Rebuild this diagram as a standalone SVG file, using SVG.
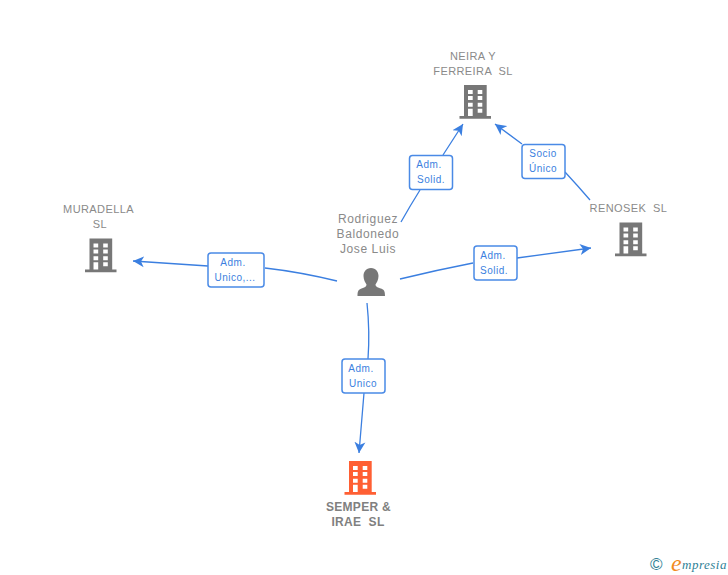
<svg xmlns="http://www.w3.org/2000/svg" width="728" height="575" viewBox="0 0 728 575">
<style>
text{font-family:"Liberation Sans",Arial,sans-serif;white-space:pre}
.n{font-size:11px;fill:#8a8a8a;text-anchor:middle;letter-spacing:.4px}
.b{font-size:12px;font-weight:bold;fill:#808080;letter-spacing:.3px}
.p{font-size:12px;letter-spacing:.6px}
.l{font-size:10px;fill:#3b7fe0;text-anchor:middle;letter-spacing:.5px}
.box{fill:#fff;stroke:#4a8ae6;stroke-width:1.5}
.c{fill:none;stroke:#3b7fe0;stroke-width:1.3;marker-end:url(#a)}
</style>
<defs>
<marker id="a" viewBox="0 0 12 12" refX="11" refY="6" markerWidth="12" markerHeight="12" markerUnits="userSpaceOnUse" orient="auto"><path d="M0 .5L11 6L0 11.500L3 6Z" fill="#3b7fe0"/></marker>
<path id="bld" fill-rule="evenodd" d="M4.500 0H27.200V31H31.500V33.800H0V31H4.500ZM8.500 5V9H13.200V5ZM18.200 5V9H22.800V5ZM8.500 11V15H13.200V11ZM18.200 11V15H22.800V11ZM8.500 17.700V21.700H13.200V17.700ZM18.200 17.700V21.700H22.800V17.700ZM8.500 23.700V31H13.200V23.700ZM18.200 23.700V27.700H22.800V23.700Z"/>
</defs>
<g id="connectors">
<path class="c" d="M401 222Q410 206 420 190M443 155L463 124"/>
<path class="c" d="M590 200Q578 186 565 172M522 144L495 124"/>
<path class="c" d="M337 281Q300 272 265 268M208 266L133 261"/>
<path class="c" d="M400 279Q437 270 473 263M517 258L591 248"/>
<path class="c" d="M367 303Q370 332 368 359M364 393L359 453"/>
</g>
<g id="label-neira"><rect class="box" x="409.500" y="155.500" width="43" height="34" rx="3"/><text class="l" x="429" y="168">Adm.</text><text class="l" x="431" y="183">Solid.</text></g>
<g id="label-socio"><rect class="box" x="522" y="144.500" width="43" height="34" rx="3"/><text class="l" x="543" y="157">Socio</text><text class="l" x="543" y="172">Único</text></g>
<g id="label-muradella"><rect class="box" x="208" y="253" width="56" height="34" rx="3"/><text class="l" x="233" y="266">Adm.</text><text class="l" x="235" y="281">Unico,...</text></g>
<g id="label-renosek"><rect class="box" x="474" y="246" width="43" height="34" rx="3"/><text class="l" x="493" y="259">Adm.</text><text class="l" x="494" y="274">Solid.</text></g>
<g id="label-semper"><rect class="box" x="342" y="359" width="43" height="34" rx="3"/><text class="l" x="361" y="372">Adm.</text><text class="l" x="363" y="387">Unico</text></g>
<g id="node-neira"><text class="n" x="473" y="60">NEIRA Y</text><text class="n" x="473" y="75">FERREIRA  SL</text><use href="#bld" x="459.500" y="85" fill="#777"/></g>
<g id="node-muradella"><text class="n" x="98.500" y="213">MURADELLA</text><text class="n" x="100" y="228">SL</text><use href="#bld" x="85" y="238.500" fill="#777"/></g>
<g id="node-renosek"><text class="n" x="628.500" y="212">RENOSEK  SL</text><use href="#bld" x="615" y="222.500" fill="#777"/></g>
<g id="node-semper"><use href="#bld" x="344.500" y="461" fill="#ff5f33"/><text class="n b" x="358.500" y="511">SEMPER &amp;</text><text class="n b" x="358" y="526">IRAE  SL</text></g>
<g id="node-person"><text class="n p" x="368" y="223">Rodriguez</text><text class="n p" x="368" y="238">Baldonedo</text><text class="n p" x="368" y="253">Jose Luis</text><path fill="#777" d="M371 268C376 268 378.500 272 378.500 276C378.500 280 376.500 283 375.500 284.500C375.500 287 378 287.500 381 288.500C384 289.500 385 291 385 296H357.500C357.500 291 358.500 289.500 361.500 288.500C364.500 287.500 366.500 287 366.500 284.500C365.500 283 363.500 280 363.500 276C363.500 272 366 268 371 268Z"/></g>
<g id="logo"><text x="650" y="570" font-size="17" fill="#2f7f96">©</text><text x="671" y="571" font-size="24" font-style="italic" style="font-family:'Liberation Serif',serif" fill="#f28c1e">e</text><text x="682" y="569" font-size="13" font-style="italic" style="font-family:'Liberation Serif',serif;letter-spacing:.5px" fill="#2f7f96">mpresia</text></g>
</svg>
